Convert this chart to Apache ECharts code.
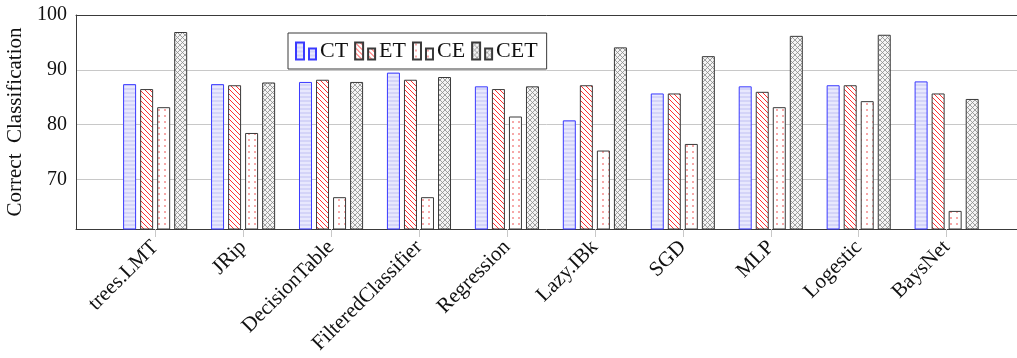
<!DOCTYPE html>
<html>
<head>
<meta charset="utf-8">
<script src="https://cdn.jsdelivr.net/npm/echarts@6/dist/echarts.min.js"></script>
<style>
  html, body { margin: 0; padding: 0; background: #fff; }
  #chart { width: 1017px; height: 358px; }
</style>
</head>
<body>
<div id="chart"></div>
<script>
// Classifiers on the x axis
const categories = ['trees.LMT', 'JRip', 'DecisionTable', 'FilteredClassifier', 'Regression',
                    'Lazy.IBk', 'SGD', 'MLP', 'Logestic', 'BaysNet'];
// Correct classification (%) per feature set
const ctValues  = [87.4, 87.4, 87.8, 89.5, 87.0, 80.8, 85.7, 87.0, 87.2, 87.9];
const etValues  = [86.5, 87.2, 88.2, 88.2, 86.5, 87.2, 85.7, 86.0, 87.2, 85.7];
const ceValues  = [83.2, 78.5, 66.8, 66.8, 81.5, 75.3, 76.5, 83.2, 84.3, 64.3];
const cetValues = [96.9, 87.7, 87.8, 88.7, 87.0, 94.1, 92.5, 96.2, 96.4, 84.7];
const yTickValues = [70, 80, 90, 100];

const FONT = '"Liberation Serif", "DejaVu Serif", serif';
const FRAME = '#3a3a3a';

// Small tiles used as repeating fill patterns
function tile(w, h, draw) {
  const c = document.createElement('canvas');
  c.width = w; c.height = h;
  const g = c.getContext('2d');
  draw(g, w, h);
  return { image: c, repeat: 'repeat' };
}
const hLines = tile(4, 4, (g) => {
  g.fillStyle = '#e8e8fd'; g.fillRect(0, 0, 4, 4);
  g.fillStyle = '#d4d4f8'; g.fillRect(0, 0, 4, 2);
});
const nwLines = tile(5, 5, (g) => {
  g.fillStyle = '#ffffff'; g.fillRect(0, 0, 5, 5);
  g.strokeStyle = '#ff3030'; g.lineWidth = 1;
  g.beginPath();
  g.moveTo(-1, -1); g.lineTo(6, 6);
  g.moveTo(-1, 4); g.lineTo(1, 6);
  g.moveTo(4, -1); g.lineTo(6, 1);
  g.stroke();
});
const dots = tile(6, 6, (g) => {
  g.fillStyle = '#ffffff'; g.fillRect(0, 0, 6, 6);
  g.fillStyle = '#f6a8a8';
  g.fillRect(2, 1, 2, 2);
});
const crossHatch = tile(5, 5, (g) => {
  g.fillStyle = '#f4f4f4'; g.fillRect(0, 0, 5, 5);
  g.strokeStyle = '#8c8c8c'; g.lineWidth = 0.8;
  g.beginPath();
  g.moveTo(0, 0); g.lineTo(5, 5);
  g.moveTo(5, 0); g.lineTo(0, 5);
  g.stroke();
});

const legendIcon = 'path://M0,0h8v17h-8z M13,6h7v11h-7z';

function barSeries(name, values, fill, border) {
  return {
    name,
    type: 'bar',
    data: values.map((v, i) => [i, v]),
    barWidth: 13,
    barGap: '31%',
    itemStyle: { color: fill, borderColor: border, borderWidth: 1 },
    emphasis: { disabled: true }
  };
}

const chart = echarts.init(document.getElementById('chart'), null, { renderer: 'canvas' });
const idx = categories.map((_, i) => i);
const X_MIN = -0.9, X_MAX = 9.8;

chart.setOption({
  animation: false,
  backgroundColor: '#ffffff',
  grid: {
    left: 76, top: 15, bottom: 129, right: 0,
    containLabel: false,
    outerBoundsMode: 'none'
  },
  legend: {
    left: 288, top: 33,
    padding: [7, 9, 7, 7],
    borderColor: FRAME, borderWidth: 1,
    itemWidth: 20, itemHeight: 17, itemGap: 6,
    icon: legendIcon,
    textStyle: { fontFamily: FONT, fontSize: 22, color: '#111', padding: [0, 0, 0, -1] },
    data: ['CT', 'ET', 'CE', 'CET']
  },
  xAxis: [
    {
      type: 'value',
      min: X_MIN, max: X_MAX,
      axisLine: { show: true, onZero: false, lineStyle: { color: FRAME, width: 1 } },
      axisTick: { show: true, customValues: idx, length: 8, lineStyle: { color: '#c8c8c8' } },
      axisLabel: {
        customValues: idx,
        rotate: 45,
        margin: 15,
        fontFamily: FONT, fontSize: 21, color: '#111',
        formatter: (v) => categories[Math.round(v)]
      },
      splitLine: { show: false }
    },
    {
      // top edge of the frame
      type: 'value',
      position: 'top',
      min: X_MIN, max: X_MAX,
      axisLine: { show: true, onZero: false, lineStyle: { color: FRAME, width: 1 } },
      axisTick: { show: false },
      axisLabel: { show: false },
      splitLine: { show: false }
    }
  ],
  yAxis: {
    type: 'value',
    min: 61, max: 100,
    splitNumber: 4,
    name: 'Correct  Classification',
    nameLocation: 'middle',
    nameGap: 49,
    nameTextStyle: { fontFamily: FONT, fontSize: 21, color: '#111' },
    axisLine: { show: true, onZero: false, lineStyle: { color: FRAME } },
    axisTick: { show: false },
    axisLabel: {
      margin: 9,
      fontFamily: FONT, fontSize: 20, color: '#111',
      formatter: (v) => (yTickValues.includes(v) ? String(v) : '')
    },
    splitLine: { show: true, lineStyle: { color: '#c8c8c8', width: 1 } }
  },
  series: [
    barSeries('CT', ctValues, hLines, '#3a3aff'),
    barSeries('ET', etValues, nwLines, FRAME),
    barSeries('CE', ceValues, dots, FRAME),
    barSeries('CET', cetValues, crossHatch, FRAME)
  ]
});
</script>
</body>
</html>
